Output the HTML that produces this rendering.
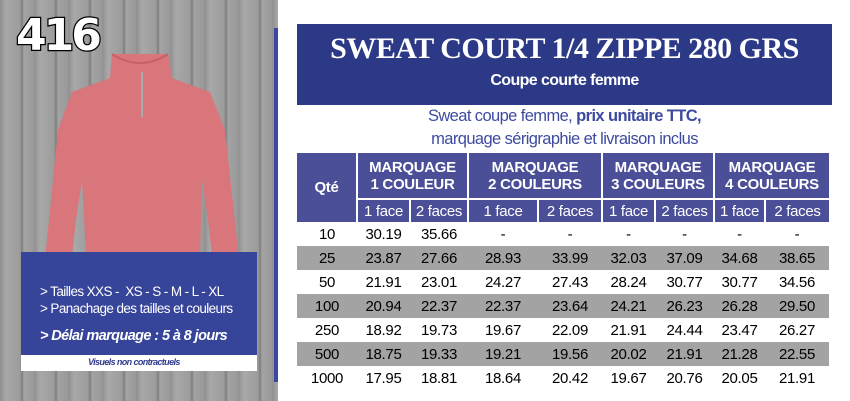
<!DOCTYPE html>
<html><head><meta charset="utf-8"><style>
*{margin:0;padding:0;box-sizing:border-box}
body{width:850px;height:401px;background:#fff;position:relative;overflow:hidden;font-family:"Liberation Sans",sans-serif}
.abs{position:absolute}
.wood{left:0;top:0;width:278px;height:401px;background:repeating-linear-gradient(90deg,#8f8f8f 0,#a8a8a8 6px,#9c9c9c 20px,#7d7d7d 22px,#a3a3a3 24px,#999 34px)}
.t{position:absolute;white-space:nowrap;letter-spacing:-0.6px}
table{position:absolute;left:297px;top:153px;border-collapse:collapse;font-size:15px;letter-spacing:-0.3px}
td{text-align:center;padding:0;height:23px}
.h td{background:#4b4f98;color:#fff;font-weight:bold;border-left:2px solid #fff;border-right:2px solid #fff}
.g td{background:#a3a3a3}
</style></head><body>
<div class="abs wood"></div>
<div class="abs" style="left:274px;top:28px;width:4px;height:354px;background:#3a46a0"></div>
<div class="t" style="left:16px;top:10px;font-size:44px;font-weight:900;color:#fff;-webkit-text-stroke:2.5px #000;paint-order:stroke fill;letter-spacing:-3px;font-family:'DejaVu Sans',sans-serif">416</div>
<svg class="abs" style="left:40px;top:50px" width="210" height="250" viewBox="0 0 210 250">
<path d="M72 4 L128 4 L132 28 L170 42 L185 80 L198 200 L200 240 L176 240 L168 170 L162 130 L160 205 Q140 214 100 214 Q60 214 46 205 L42 130 L36 170 L28 240 L4 240 L6 200 L18 80 L32 42 L70 28 Z" fill="#d8767c"/>
<path d="M72 4 Q100 22 128 4" stroke="#c46268" fill="none" stroke-width="2"/>
<line x1="102" y1="22" x2="102" y2="67" stroke="#aaa" stroke-width="2"/>
</svg>
<div class="abs" style="left:21px;top:252px;width:236px;height:103px;background:#36449a"></div>
<div class="abs" style="left:21px;top:355px;width:236px;height:16px;background:#fff"></div>
<div class="t" style="left:40px;top:284px;font-size:13.5px;color:#fff">&gt; Tailles XXS -&nbsp; XS - S - M - L - XL</div>
<div class="t" style="left:40px;top:301px;font-size:13.5px;color:#fff">&gt; Panachage des tailles et couleurs</div>
<div class="t" style="left:40px;top:328px;font-size:14.5px;color:#fff;font-weight:bold;font-style:italic">&gt; Délai marquage : 5 à 8 jours</div>
<div class="t" style="left:88px;top:357px;font-size:9px;color:#2e3a8c;font-weight:bold;font-style:italic">Visuels non contractuels</div>
<div class="abs" style="left:297px;top:24px;width:535px;height:81px;background:#2c3986"></div>
<div class="t" style="left:297px;width:535px;text-align:center;top:32px;font-size:30px;font-weight:bold;color:#fff;font-family:'Liberation Serif',serif;letter-spacing:-0.5px">SWEAT COURT 1/4 ZIPPE 280 GRS</div>
<div class="t" style="left:297px;width:535px;text-align:center;top:72px;font-size:16px;font-weight:bold;color:#fff">Coupe courte femme</div>
<div class="t" style="left:297px;width:535px;text-align:center;top:107px;font-size:16.5px;color:#3d4aa0">Sweat coupe femme, <b>prix unitaire TTC,</b></div>
<div class="t" style="left:297px;width:535px;text-align:center;top:130px;font-size:16.5px;color:#3d4aa0">marquage sérigraphie et livraison inclus</div>
<table>
<colgroup><col style="width:60px"><col style="width:53px"><col style="width:58px"><col style="width:70px"><col style="width:64px"><col style="width:53px"><col style="width:59px"><col style="width:51px"><col style="width:64px"></colgroup>
<tr class="h"><td rowspan="2" style="border-left:0">Qté</td><td colspan="2" style="height:46px;line-height:17px">MARQUAGE<br>1 COULEUR</td><td colspan="2" style="line-height:17px">MARQUAGE<br>2 COULEURS</td><td colspan="2" style="line-height:17px">MARQUAGE<br>3 COULEURS</td><td colspan="2" style="line-height:17px;border-right:0">MARQUAGE<br>4 COULEURS</td></tr>
<tr class="h"><td style="font-weight:normal;height:22px;border-top:2px solid #fff">1 face</td><td style="font-weight:normal;border-top:2px solid #fff">2 faces</td><td style="font-weight:normal;border-top:2px solid #fff">1 face</td><td style="font-weight:normal;border-top:2px solid #fff">2 faces</td><td style="font-weight:normal;border-top:2px solid #fff">1 face</td><td style="font-weight:normal;border-top:2px solid #fff">2 faces</td><td style="font-weight:normal;border-top:2px solid #fff">1 face</td><td style="font-weight:normal;border-top:2px solid #fff;border-right:0">2 faces</td></tr>
<tr><td style="height:24px">10</td><td>30.19</td><td>35.66</td><td>-</td><td>-</td><td>-</td><td>-</td><td>-</td><td>-</td></tr>
<tr class="g"><td style="height:24px">25</td><td>23.87</td><td>27.66</td><td>28.93</td><td>33.99</td><td>32.03</td><td>37.09</td><td>34.68</td><td>38.65</td></tr>
<tr><td style="height:24px">50</td><td>21.91</td><td>23.01</td><td>24.27</td><td>27.43</td><td>28.24</td><td>30.77</td><td>30.77</td><td>34.56</td></tr>
<tr class="g"><td style="height:24px">100</td><td>20.94</td><td>22.37</td><td>22.37</td><td>23.64</td><td>24.21</td><td>26.23</td><td>26.28</td><td>29.50</td></tr>
<tr><td style="height:24px">250</td><td>18.92</td><td>19.73</td><td>19.67</td><td>22.09</td><td>21.91</td><td>24.44</td><td>23.47</td><td>26.27</td></tr>
<tr class="g"><td style="height:24px">500</td><td>18.75</td><td>19.33</td><td>19.21</td><td>19.56</td><td>20.02</td><td>21.91</td><td>21.28</td><td>22.55</td></tr>
<tr><td style="height:24px">1000</td><td>17.95</td><td>18.81</td><td>18.64</td><td>20.42</td><td>19.67</td><td>20.76</td><td>20.05</td><td>21.91</td></tr>
</table>
</body></html>
